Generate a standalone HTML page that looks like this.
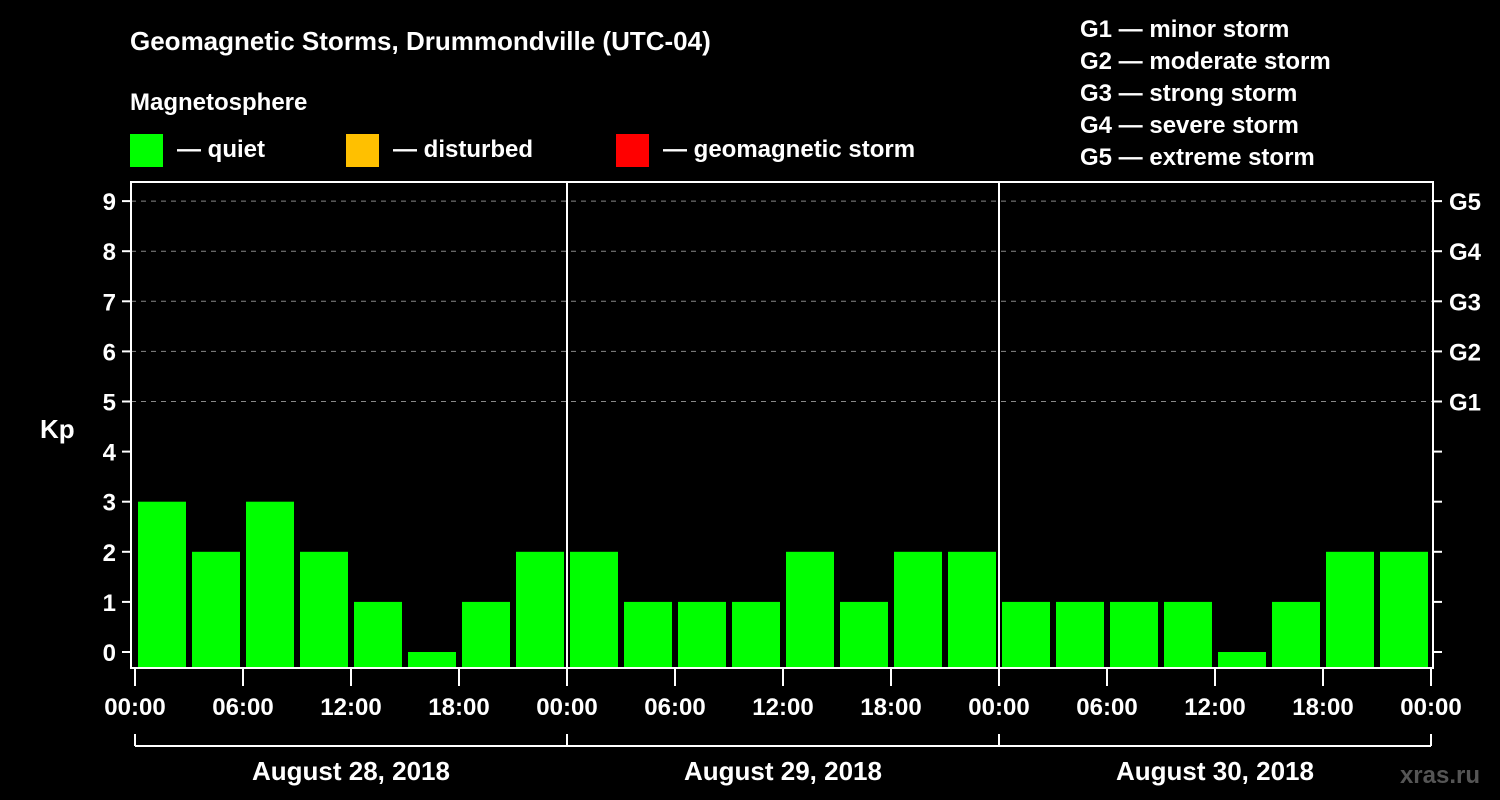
<!DOCTYPE html>
<html><head><meta charset="utf-8"><style>
body{margin:0;background:#000;}
svg{display:block;font-family:"Liberation Sans",Arial,sans-serif;font-weight:bold;}
</style></head><body>
<svg id="c" width="1500" height="800" viewBox="0 0 1500 800">
<rect width="1500" height="800" fill="#000"/>
<text x="130" y="50" fill="#fff" font-size="26">Geomagnetic Storms, Drummondville (UTC-04)</text>
<text x="130" y="110" fill="#fff" font-size="24">Magnetosphere</text>
<g><rect x="130" y="134" width="33" height="33" fill="#00ff00"/><text x="177" y="157" fill="#fff" font-size="24">— quiet</text></g>
<g><rect x="346" y="134" width="33" height="33" fill="#ffc000"/><text x="393" y="157" fill="#fff" font-size="24">— disturbed</text></g>
<g><rect x="616" y="134" width="33" height="33" fill="#ff0000"/><text x="663" y="157" fill="#fff" font-size="24">— geomagnetic storm</text></g>
<g fill="#fff" font-size="24">
<text x="1080" y="37">G1 — minor storm</text><text x="1080" y="69">G2 — moderate storm</text><text x="1080" y="101">G3 — strong storm</text><text x="1080" y="133">G4 — severe storm</text><text x="1080" y="165">G5 — extreme storm</text>
</g>
<text x="40" y="438" fill="#fff" font-size="26">Kp</text>
<text x="1480" y="783" fill="#555" font-size="24" text-anchor="end">xras.ru</text>
<defs><clipPath id="pc"><rect x="136" y="182" width="1292" height="486"/></clipPath></defs>
<g id="grid"></g><g id="bars" clip-path="url(#pc)"></g><g id="axes"></g>
</svg>
<script>
const kpValues=[3,2,3,2,1,0,1,2, 2,1,1,1,2,1,2,2, 1,1,1,1,0,1,2,2,1];
const yTicks=[0,1,2,3,4,5,6,7,8,9];
const gLabels=["G1","G2","G3","G4","G5"];
const gLevels=[5,6,7,8,9];
const xTickLabels=["00:00","06:00","12:00","18:00","00:00","06:00","12:00","18:00","00:00","06:00","12:00","18:00","00:00"];
const dayLabels=["August 28, 2018","August 29, 2018","August 30, 2018"];
const NS="http://www.w3.org/2000/svg";
const X0=135,PXH=18,Y0=652,PXK=50.1,BOT=668,TOP=182,L=131,R=1433;
const xs=h=>X0+h*PXH, ys=k=>Y0-k*PXK;
function mk(t,a,p){const e=document.createElementNS(NS,t);for(const k in a)e.setAttribute(k,a[k]);document.getElementById(p).appendChild(e);return e;}
gLevels.forEach((g,i)=>{
 const l=mk('line',{x1:L,x2:R,y1:ys(g),y2:ys(g),stroke:'#888','stroke-width':1,'stroke-dasharray':'5,5'},'grid');
 
 
 const t=mk('text',{x:1449,y:ys(g)+9,fill:'#fff','font-size':24},'axes');t.textContent=gLabels[i];
 
 
});
kpValues.forEach((v,i)=>{
 const c=xs(1.5+3*i);
 const b=mk('rect',{x:c-24,width:48,y:ys(v),height:BOT-ys(v),fill:'#00ff00'},'bars');
 
 
});
mk('rect',{x:L,y:TOP,width:R-L,height:BOT-TOP,fill:'none',stroke:'#fff','stroke-width':2},'axes');
[1,2].forEach(d=>mk('line',{x1:xs(24*d),x2:xs(24*d),y1:TOP,y2:BOT,stroke:'#fff','stroke-width':2},'axes'));
yTicks.forEach(k=>{
 mk('line',{x1:122,x2:L,y1:ys(k),y2:ys(k),stroke:'#fff','stroke-width':2},'axes');
 mk('line',{x1:R,x2:1442,y1:ys(k),y2:ys(k),stroke:'#fff','stroke-width':2},'axes');
 const t=mk('text',{x:116,y:ys(k)+9,fill:'#fff','font-size':24,'text-anchor':'end'},'axes');t.textContent=k;
 
 
});
xTickLabels.forEach((s,i)=>{
 const x=xs(6*i);
 mk('line',{x1:x,x2:x,y1:BOT,y2:686,stroke:'#fff','stroke-width':2},'axes');
 const t=mk('text',{x:x,y:715,fill:'#fff','font-size':24,'text-anchor':'middle'},'axes');t.textContent=s;
 
 
});
mk('line',{x1:xs(0),x2:xs(72),y1:746,y2:746,stroke:'#fff','stroke-width':2},'axes');
[0,1,2,3].forEach(d=>mk('line',{x1:xs(24*d),x2:xs(24*d),y1:734,y2:746,stroke:'#fff','stroke-width':2},'axes'));
dayLabels.forEach((s,i)=>{
 const t=mk('text',{x:xs(24*i+12),y:780,fill:'#fff','font-size':26,'text-anchor':'middle'},'axes');t.textContent=s;
 
 
});
</script>
</body></html>
